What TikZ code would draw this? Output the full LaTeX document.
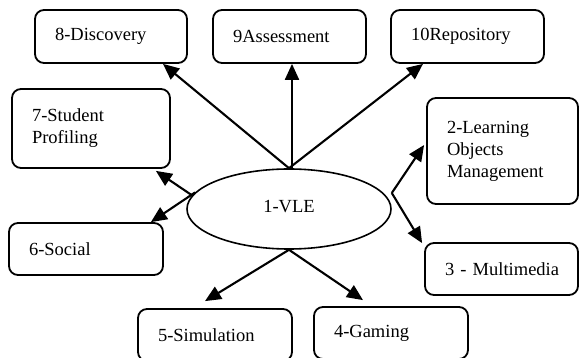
\documentclass[tikz,border=0pt]{standalone}
\usepackage{fontspec}
\setmainfont{Liberation Serif}
\usetikzlibrary{arrows.meta,shapes.geometric}
\begin{document}
\begin{tikzpicture}[x=1pt,y=-1pt,
  bx/.style={draw, line width=1.8pt, rounded corners=9pt, align=left, inner xsep=20pt, inner ysep=0pt, font=\fontsize{18.5}{22}\selectfont},
  arr/.style={line width=2.1pt, -{Triangle[length=16pt,width=14pt]}}]
\useasboundingbox (0,0) rectangle (579,358);
\clip (0,0) rectangle (579,358);
\node[bx, minimum width=152pt, minimum height=53pt, text width=112pt] (b8) at (111,36.5) {\mbox{8-Discovery}};
\node[bx, minimum width=153pt, minimum height=53pt, text width=113pt] (b9) at (289.5,36.5) {\mbox{9Assessment}};
\node[bx, minimum width=153pt, minimum height=53pt, text width=113pt] (b10) at (467.5,36.5) {\mbox{10Repository}};
\node[bx, minimum width=158pt, minimum height=79pt, text width=118pt] (b7) at (91,128.5) {7-Student\\Profiling};
\node[bx, minimum width=151pt, minimum height=106pt, text width=111pt] (b2) at (502.5,151) {2-Learning\\Objects\\Management};
\node[bx, minimum width=154pt, minimum height=52pt, text width=114pt] (b6) at (86,249) {\mbox{6-Social}};
\node[bx, minimum width=153pt, minimum height=52pt, text width=113pt] (b3) at (501.5,269) {\mbox{3 - Multimedia}};
\node[bx, minimum width=154pt, minimum height=52pt, text width=114pt] (b5) at (215,335) {\mbox{5-Simulation}};
\node[bx, minimum width=154pt, minimum height=52pt, text width=114pt] (b4) at (391,333) {\mbox{4-Gaming}};
\node[draw, ellipse, line width=1.6pt, minimum width=204pt, minimum height=80pt, inner sep=0pt, font=\fontsize{18.5}{22}\selectfont] (vle) at (289,209) {\raisebox{5pt}{1-VLE}};
\coordinate (fork) at ([yshift=16pt]vle.east);
\draw[arr] (vle.north) -- ([xshift=52pt]b8.south);
\draw[arr] ([xshift=3pt]vle.north) -- ([xshift=3pt]vle.north |- b9.south);
\draw[arr] (vle.north) -- ([xshift=-44.5pt]b10.south);
\draw[arr] (vle.172) -- ([xshift=-15pt,yshift=-2pt]b7.south east);
\draw[arr] (vle.170) -- ([xshift=-13pt]b6.north east);
\draw[arr] (fork) -- ([yshift=6pt,xshift=-2pt]b2.west);
\draw[arr] (fork) -- ([xshift=-2pt,yshift=-1pt]b3.north west);
\draw[arr] (vle.south) -- ([xshift=-10pt,yshift=7pt]b5.north);
\draw[arr] (vle.south) -- ([xshift=-28pt,yshift=6pt]b4.north);
\end{tikzpicture}
\end{document}
